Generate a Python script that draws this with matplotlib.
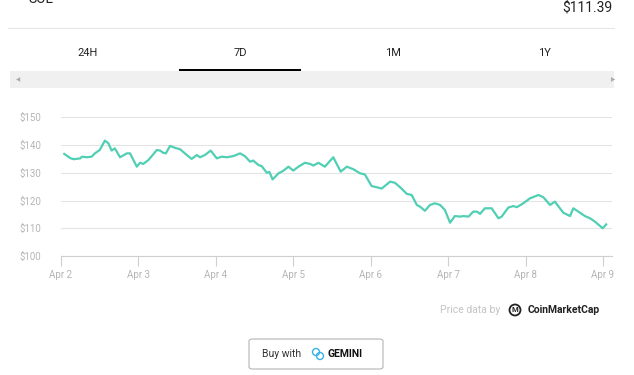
import matplotlib
matplotlib.use('Agg')

import matplotlib.pyplot as plt
from matplotlib.patches import Rectangle, FancyBboxPatch, Circle

# Precio SOL, 7 días (horas desde Apr 2 00:00)
horas = [1, 3, 4, 6, 6.5, 8, 9.5, 10.5, 12, 13.6, 14.7, 15.7, 16.7, 18.3, 20.4, 21.4,
         23.5, 24.5, 25.5, 27.1, 29.7, 30.7, 31.7, 32.5, 33.8, 35.3, 36.9, 39, 40.5,
         42.1, 43.1, 44.6, 46.4, 48.3, 49.8, 51.4, 53.4, 55.5, 57, 58.6, 59.6, 61.2,
         62.2, 63.8, 64.6, 65.6, 67.4, 68.9, 70.5, 72, 73.6, 75.6, 77.2, 78.2, 79.8,
         81.8, 84.4, 86.7, 88.6, 90.6, 92.7, 94.2, 96.3, 97.9, 99.4, 102, 103.5, 105.1,
         107.2, 108.7, 110.3, 111.3, 112.8, 114.4, 115.9, 117.5, 119, 120.6, 122.1,
         123.7, 124.7, 126.3, 127.8, 128.9, 129.9, 131.4, 133.5, 135.6, 136.6, 138.7,
         140.2, 141.3, 143.3, 145.4, 148, 149.5, 151.6, 153.1, 155.7, 157.8, 158.8,
         160.9, 162.4, 164, 165.5, 167.9, 169]
precios = [136.8, 135.2, 134.9, 135.2, 135.8, 135.6, 135.8, 137, 138.2, 141.6, 140.6,
           138, 138.8, 135.6, 137, 137, 132.2, 133.6, 133.2, 134.6, 138.2, 138, 137.2,
           137, 139.7, 139, 138.5, 136.4, 135, 136.4, 135.6, 136.4, 138, 135.2, 135.8,
           135.6, 136, 137, 136, 134, 134.4, 132.8, 132.4, 130, 130.3, 127.6, 129.8,
           130.7, 132.2, 130.8, 132.2, 133.6, 133.2, 132.6, 133.6, 132.2, 135.6, 130.4,
           132.2, 131.3, 129.8, 129.4, 125.2, 124.8, 124.3, 126.8, 126.4, 124.8, 122.4,
           122, 118.4, 117.8, 116.3, 118.4, 119, 118.4, 116.6, 112, 114.4, 114.2, 114.4,
           114.2, 116, 116, 115.2, 117.2, 117.2, 113.6, 114.2, 117.5, 118, 117.6, 119,
           120.8, 122, 121.2, 118.4, 119.6, 115.6, 114.4, 117.2, 115.6, 114.4, 113.6,
           112.4, 110, 111.39]

etiquetas_x = ['Apr 2', 'Apr 3', 'Apr 4', 'Apr 5', 'Apr 6', 'Apr 7', 'Apr 8', 'Apr 9']
valores_y = [100, 110, 120, 130, 140, 150]
pestanas = ['24H', '7D', '1M', '1Y']

W, H = 634, 375
plt.rcParams['font.family'] = ['Roboto', 'DejaVu Sans']


def fx(px):
    return px / W


def fy(py):
    return 1 - py / H


fig = plt.figure(figsize=(W / 100, H / 100), dpi=100)
fig.patch.set_facecolor('white')

# --- Gráfico ---
ax = fig.add_axes([fx(61), fy(256), fx(612) - fx(61), fy(117.3) - fy(256)])
ax.plot(horas, precios, color='#50cfb4', lw=1.6, solid_joinstyle='round')
ax.set_xlim(0, 170.8)
ax.set_ylim(100, 150)
ax.set_yticks(valores_y)
ax.set_yticklabels([f'${v}' for v in valores_y])
ax.set_xticks([24 * i for i in range(len(etiquetas_x))])
ax.set_xticklabels(etiquetas_x)
ax.grid(axis='y', color='#e4e4e4', lw=0.8)
ax.set_axisbelow(True)
for s in ['top', 'right', 'left']:
    ax.spines[s].set_visible(False)
ax.spines['bottom'].set_color('#cfcfcf')
ax.tick_params(axis='y', length=0, pad=14, labelsize=7, labelcolor='#b5b5b5')
ax.tick_params(axis='x', length=7, color='#cfcfcf', pad=3, labelsize=7, labelcolor='#b5b5b5')

# --- Encabezado ---
fig.text(fx(28), fy(3), 'SOL', fontsize=10, color='#222222', va='baseline')
fig.text(fx(612), fy(12), '$111.39', fontsize=10, color='#222222', ha='right', va='baseline')
fig.add_artist(plt.Line2D([fx(8), fx(614)], [fy(28), fy(28)], color='#e6e6e6', lw=0.8))

for txt, px in zip(pestanas, [88, 240, 393, 544]):
    fig.text(fx(px), fy(53), txt, fontsize=8, color='#222222', ha='center', va='center')
fig.add_artist(Rectangle((fx(179), fy(71)), fx(301) - fx(179), 2 / H, color='black', lw=0))
fig.add_artist(Rectangle((fx(10), fy(88)), fx(614) - fx(10), 17 / H, color='#f0f0f0', lw=0))
fig.text(fx(18), fy(79.5), '◀', fontsize=4, color='#aaaaaa', ha='center', va='center',
         family='DejaVu Sans')
fig.text(fx(613), fy(79.5), '▶', fontsize=4, color='#aaaaaa', ha='center', va='center',
         family='DejaVu Sans')

# --- Créditos ---
fig.text(fx(500), fy(310), 'Price data by', fontsize=7.5, color='#c4c4c4', ha='right', va='center')
fig.add_artist(Circle((515 / 100, (H - 310) / 100), 0.055, transform=fig.dpi_scale_trans,
                      fill=False, ec='#222222', lw=1.3))
fig.text(fx(515), fy(310), 'M', fontsize=5.5, color='#222222', ha='center', va='center',
         fontweight='bold')
fig.text(fx(528), fy(310), 'CoinMarketCap', fontsize=7.5, color='#222222', ha='left',
         va='center', fontweight='bold')

# --- Botón ---
fig.add_artist(FancyBboxPatch((fx(249), fy(369)), fx(383) - fx(249), 30 / H,
                              boxstyle='round,pad=0,rounding_size=0.006',
                              fc='white', ec='#bdbdbd', lw=0.9))
fig.text(fx(262), fy(354), 'Buy with', fontsize=7.5, color='#333333', ha='left', va='center')
for dx, dy in [(-2, 2), (2, -2)]:
    fig.add_artist(Circle(((318 + dx) / 100, (H - 354 + dy) / 100), 0.035,
                          transform=fig.dpi_scale_trans, fill=False, ec='#39b3e6', lw=1))
fig.text(fx(327), fy(354), 'GEMINI', fontsize=7.5, color='#111111', ha='left', va='center',
         fontweight='bold')

plt.savefig('out.png', dpi=100)
